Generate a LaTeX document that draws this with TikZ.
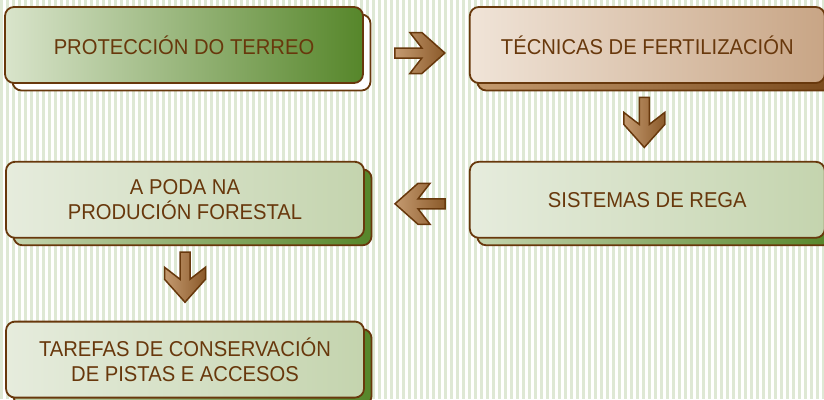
\documentclass[tikz,border=0pt]{standalone}
\usepackage{fontspec}
\newfontfamily\boxfont[FakeStretch=0.94]{Liberation Sans}
\usepackage{tikz}
\usetikzlibrary{positioning,shadows}

\definecolor{brn}{RGB}{104,56,12}
\definecolor{stripe}{RGB}{222,232,212}
\definecolor{leafdark}{RGB}{86,134,42}
\definecolor{leaflight}{RGB}{217,228,203}
\definecolor{sagelight}{RGB}{230,236,221}
\definecolor{sagedark}{RGB}{196,212,174}
\definecolor{tanlight}{RGB}{240,228,216}
\definecolor{tandark}{RGB}{200,165,133}
\definecolor{barklight}{RGB}{196,154,110}
\definecolor{barkdark}{RGB}{122,74,28}
\definecolor{arrowlight}{RGB}{196,154,112}
\definecolor{arrowdark}{RGB}{139,90,42}

\tikzset{
  chev/.pic={
    \draw[brn,line width=1.5pt,line join=miter,left color=arrowlight,right color=arrowdark]
      (-25,5) -- (2,5) -- (-10,20.5) -- (2,20.5) -- (25,0) -- (2,-20.5)
      -- (-10,-20.5) -- (2,-5) -- (-25,-5) -- cycle;
  }
}

\begin{document}
\begin{tikzpicture}[
    x=1pt,y=1pt,
    box/.style={rectangle,rounded corners=9pt,draw=brn,line width=1.8pt,minimum height=76pt,align=center,
      text=brn,font=\boxfont\fontsize{21.5}{24.5}\selectfont},
    leftbox/.style={box,minimum width=358pt},
    rightbox/.style={box,minimum width=355pt},
    plainshadow/.style={drop shadow={shadow xshift=7.5pt,shadow yshift=-7.5pt,opacity=1,fill=white,draw=brn,line width=1.8pt}},
    greenshadow/.style={drop shadow={shadow xshift=7.5pt,shadow yshift=-7.5pt,opacity=1,left color=sagedark,right color=leafdark,draw=brn,line width=1.8pt}},
    barkshadow/.style={drop shadow={shadow xshift=7.5pt,shadow yshift=-7.5pt,opacity=1,left color=barklight,right color=barkdark,draw=brn,line width=1.8pt}},
    leafbox/.style={plainshadow,left color=leaflight,right color=leafdark},
    tanbox/.style={barkshadow,left color=tanlight,right color=tandark},
    sagebox/.style={greenshadow,left color=sagelight,right color=sagedark}
  ]
    \useasboundingbox (0,0) rectangle (824,-399);
    \fill[white] (0,0) rectangle (824,-399);
    \foreach \x in {0,6,...,822}
      \fill[stripe] (\x,0) rectangle ++(3,-399);

    \node[leftbox,leafbox] (proteccion) at (184,-45) {PROTECCIÓN DO TERREO};
    \node[rightbox,tanbox,right=105pt of proteccion] (tecnicas) {TÉCNICAS DE FERTILIZACIÓN};
    \node[rightbox,sagebox,below=77pt of tecnicas] (rega) {SISTEMAS DE REGA};
    \node[leftbox,sagebox,left=104pt of rega] (poda) {A PODA NA\\PRODUCIÓN FORESTAL};
    \node[leftbox,sagebox,below=82pt of poda] (tarefas) {TAREFAS DE CONSERVACIÓN\\DE PISTAS E ACCESOS};

    \path ([yshift=-8pt]proteccion.east) -- pic[pos=0.533]{chev} ([yshift=-8pt]tecnicas.west);
    \path ([xshift=-3pt]tecnicas.south) -- pic[rotate=-90]{chev} ([xshift=-3pt]rega.north);
    \path ([yshift=-4pt]rega.west) -- pic[pos=0.47,rotate=180]{chev} ([yshift=-4pt]poda.east);
    \path (poda.south) -- pic[pos=0.47,rotate=-90]{chev} (tarefas.north);
  \end{tikzpicture}
\end{document}
